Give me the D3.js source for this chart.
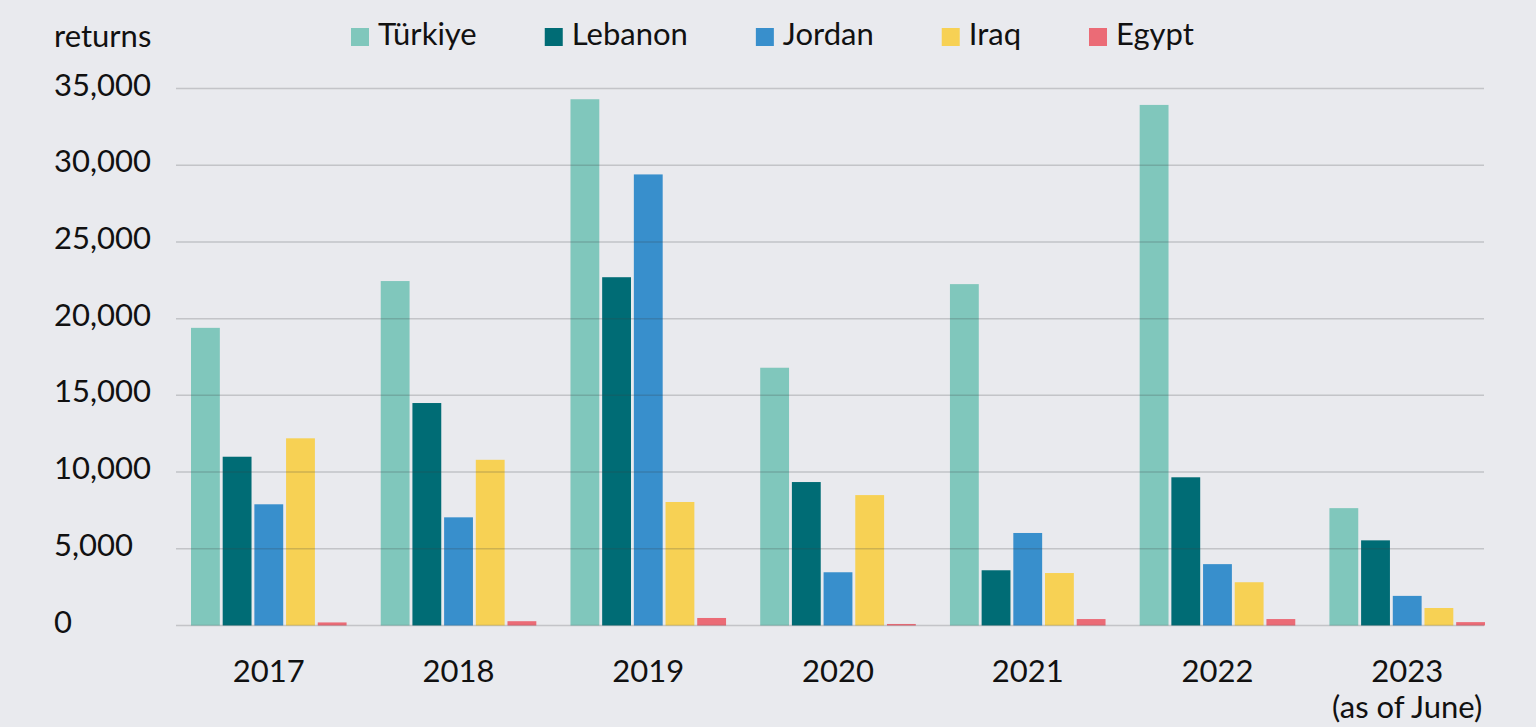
<!DOCTYPE html>
<html>
<head>
<meta charset="utf-8">
<script src="https://cdn.jsdelivr.net/npm/d3@7"></script>
<style>
  html, body { margin: 0; padding: 0; background: #e9eaee; }
  svg { display: block; }
  text { font-family: Lato, "Open Sans", sans-serif; fill: #111; }
</style>
</head>
<body>
<svg id="chart" width="1536" height="727"></svg>
<script>
// ---- data ----
const years = ["2017", "2018", "2019", "2020", "2021", "2022", "2023"];
const yearLabels = [["2017"], ["2018"], ["2019"], ["2020"], ["2021"], ["2022"], ["2023", "(as of June)"]];
const countries = ["Türkiye", "Lebanon", "Jordan", "Iraq", "Egypt"];
const turkiye = [19400, 22450, 34300, 16800, 22250, 33930, 7650];
const lebanon = [11000, 14500, 22700, 9350, 3600, 9660, 5550];
const jordan  = [7900, 7050, 29400, 3470, 6030, 4000, 1930];
const iraq    = [12200, 10800, 8050, 8500, 3420, 2820, 1140];
const egypt   = [200, 280, 490, 100, 420, 420, 220];
const yTicks = [0, 5000, 10000, 15000, 20000, 25000, 30000, 35000];
const colors = ["#80c7bc", "#006c75", "#388fcc", "#f7d154", "#eb6b76"];
const yAxisTitle = "returns";

const seriesValues = [turkiye, lebanon, jordan, iraq, egypt];

// ---- layout ----
const svg = d3.select("#chart");
const gridLeft = 176, gridRight = 1484;
const fs = 31;

const x0 = d3.scaleBand().domain(years).range([191, 1485]).paddingInner(0.18).paddingOuter(0);
const x1 = d3.scaleBand().domain(countries).range([0, x0.bandwidth()]).paddingInner(0.09).paddingOuter(0);
const y = d3.scaleLinear().domain([0, 35000]).range([625.5, 88.5]);
const color = d3.scaleOrdinal().domain(countries).range(colors);

// bars
const groups = svg.append("g").selectAll("g")
  .data(years)
  .join("g")
  .attr("transform", d => `translate(${x0(d)},0)`);

groups.selectAll("rect")
  .data((d, i) => countries.map((c, j) => ({ country: c, value: seriesValues[j][i] })))
  .join("rect")
  .attr("x", d => x1(d.country))
  .attr("width", x1.bandwidth())
  .attr("y", d => y(d.value))
  .attr("height", d => y(0) - y(d.value))
  .attr("fill", d => color(d.country));

// gridlines on top
svg.append("g").selectAll("line")
  .data(yTicks)
  .join("line")
  .attr("x1", gridLeft).attr("x2", gridRight)
  .attr("y1", d => y(d)).attr("y2", d => y(d))
  .attr("stroke", "rgba(60,62,70,0.22)")
  .attr("stroke-width", 1.5);

// y tick labels
const fmt = d3.format(",");
svg.append("g").selectAll("text")
  .data(yTicks)
  .join("text")
  .attr("x", 54)
  .attr("y", d => y(d) + 7)
  .attr("font-size", fs)
  .text(d => fmt(d));

// y axis title
svg.append("text")
  .attr("x", 54).attr("y", 47)
  .attr("font-size", fs)
  .text(yAxisTitle);

// x labels
const xl = svg.append("g").selectAll("text")
  .data(years.map((yr, i) => ({ yr, lines: yearLabels[i] })))
  .join("text")
  .attr("text-anchor", "middle")
  .attr("font-size", fs)
  .attr("x", d => x0(d.yr) + x0.bandwidth() / 2)
  .attr("y", 682);
xl.selectAll("tspan")
  .data(d => d.lines.map(l => ({ l, x: x0(d.yr) + x0.bandwidth() / 2 })))
  .join("tspan")
  .attr("x", d => d.x)
  .attr("dy", (d, i) => i === 0 ? 0 : 36)
  .text(d => d.l);

// legend
const legend = svg.append("g");
let lx = 351;
countries.forEach(c => {
  const g = legend.append("g").attr("transform", `translate(${lx},0)`);
  g.append("rect").attr("x", 0).attr("y", 28).attr("width", 18).attr("height", 18).attr("fill", color(c));
  const t = g.append("text").attr("x", 27).attr("y", 45).attr("font-size", fs).text(c);
  lx += 27 + t.node().getComputedTextLength() + 68;
});
</script>
</body>
</html>
